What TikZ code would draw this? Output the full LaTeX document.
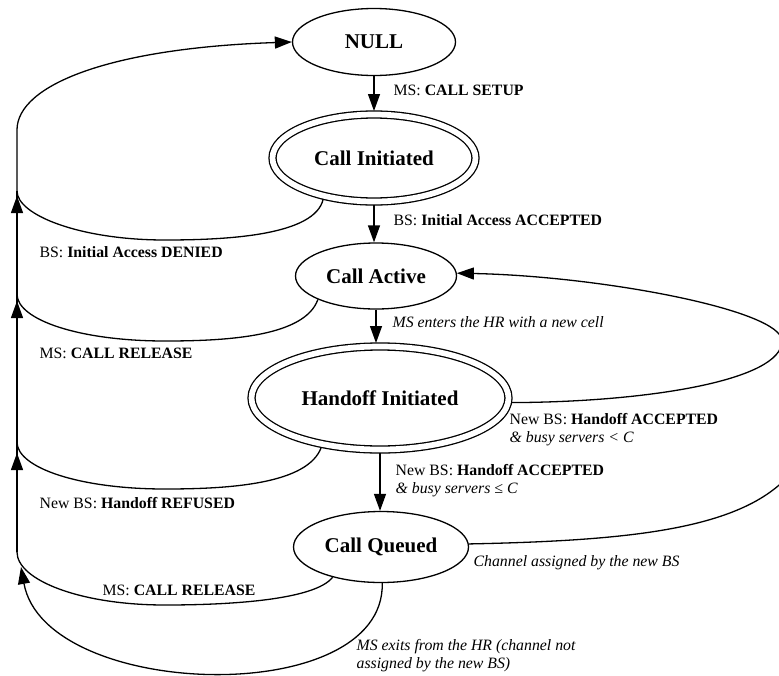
\documentclass[tikz,border=0pt]{standalone}
\usepackage{fontspec}
\setmainfont{Liberation Serif}
\usetikzlibrary{arrows.meta,shapes.geometric}
\begin{document}
\begin{tikzpicture}[x=1pt,y=-1pt,
  line width=1.3pt,
  st/.style={ellipse, draw, inner sep=0pt, font=\fontsize{21}{24}\selectfont\bfseries},
  dst/.style={st, double, double distance=5.7pt, outer sep=3.5pt},
  lbl/.style={anchor=west, inner sep=0pt, font=\fontsize{15.8}{18}\selectfont, align=left},
  arr/.style={-{Triangle[length=17pt,width=12pt]}},
]
\useasboundingbox (0,0) rectangle (779,675);
\clip (0,0) rectangle (779,675);

% states
\node[st, minimum width=163pt, minimum height=67pt] (null) at (374,42) {NULL};
\node[dst, minimum width=203pt, minimum height=87pt] (ci) at (374,158) {Call Initiated};
\node[st, minimum width=161pt, minimum height=66pt] (ca) at (376,276) {Call Active};
\node[dst, minimum width=257pt, minimum height=103pt] (hi) at (380,398) {Handoff Initiated};
\node[st, minimum width=175pt, minimum height=71pt] (cq) at (381,547) {Call Queued};

% main vertical transitions
\draw[arr] (null.south) -- (null.south |- ci.north);
\draw[arr] (ci.south) -- (ci.south |- ca.north);
\draw[arr] (ca.south) -- (ca.south |- hi.north);
\draw[arr] (hi.south) -- (hi.south |- cq.north);

% left merge points
\coordinate (top) at (17,130);
\coordinate (j1) at (17,191);
\coordinate (t1) at (17,196);
\coordinate (j2) at (17,294);
\coordinate (t2) at (17,301);
\coordinate (j3) at (17,442);
\coordinate (t3) at (17,453);
\coordinate (j4) at (17,552);
\coordinate (t4) at (21,567);

\draw[arr] (j1) -- (top) .. controls (17,85) and (110,48) .. (null.west);
\draw (ci.219) .. controls (315,235) and (230,240) .. (165,240) .. controls (80,240) and (17,215) .. (j1);
\draw (j2) -- (j1);
\draw[arr] (j2) -- (t1);
\draw (ca.202) .. controls (305,336) and (230,341) .. (165,341) .. controls (80,341) and (17,320) .. (j2);
\draw (j3) -- (j2);
\draw[arr] (j3) -- (t2);
\draw (hi.220) .. controls (308,484) and (230,489) .. (165,489) .. controls (80,489) and (17,468) .. (j3);
\draw (j4) -- (j3);
\draw[arr] (j4) -- (t3);
\draw (cq.212) .. controls (315,600) and (230,605) .. (165,605) .. controls (80,605) and (17,580) .. (j4);
\draw[arr] (cq.-88) .. controls (385,710) and (45,700) .. (t4);

% right loops back to Call Active
\coordinate (m) at (782,341);
\draw (hi.-2) .. controls (650,402) and (782,380) .. (m);
\draw[arr] (m) .. controls (782,310) and (600,276) .. (ca.2);
\draw (cq.2) .. controls (660,540) and (780,525) .. (810,440) .. controls (830,390) and (800,350) .. (m);

% labels
\node[lbl] (l1) at (393,90) {MS: \textbf{CALL SETUP}};
\node[lbl] (l2) at (393,220) {BS: \textbf{Initial Access ACCEPTED}};
\node[lbl] (l3) at (392,322) {\textit{MS enters the HR with a new cell}};
\node[lbl] (l4) at (509,430) {New BS: \textbf{Handoff ACCEPTED}\\\textit{\& busy servers < C}};
\node[lbl] (l5) at (395,481) {New BS: \textbf{Handoff ACCEPTED}\\\textit{\& busy servers ≤ C}};
\node[lbl] (l6) at (473,563) {\textit{Channel assigned by the new BS}};
\node[lbl] (l7) at (39,252) {BS: \textbf{Initial Access DENIED}};
\node[lbl] (l8) at (39,353) {MS: \textbf{CALL RELEASE}};
\node[lbl] (l9) at (39,503) {New BS: \textbf{Handoff REFUSED}};
\node[lbl] (l10) at (102,590) {MS: \textbf{CALL RELEASE}};
\node[lbl] (l11) at (356,656) {\textit{MS exits from the HR (channel not}\\\textit{assigned by the new BS)}};
\end{tikzpicture}
\end{document}
